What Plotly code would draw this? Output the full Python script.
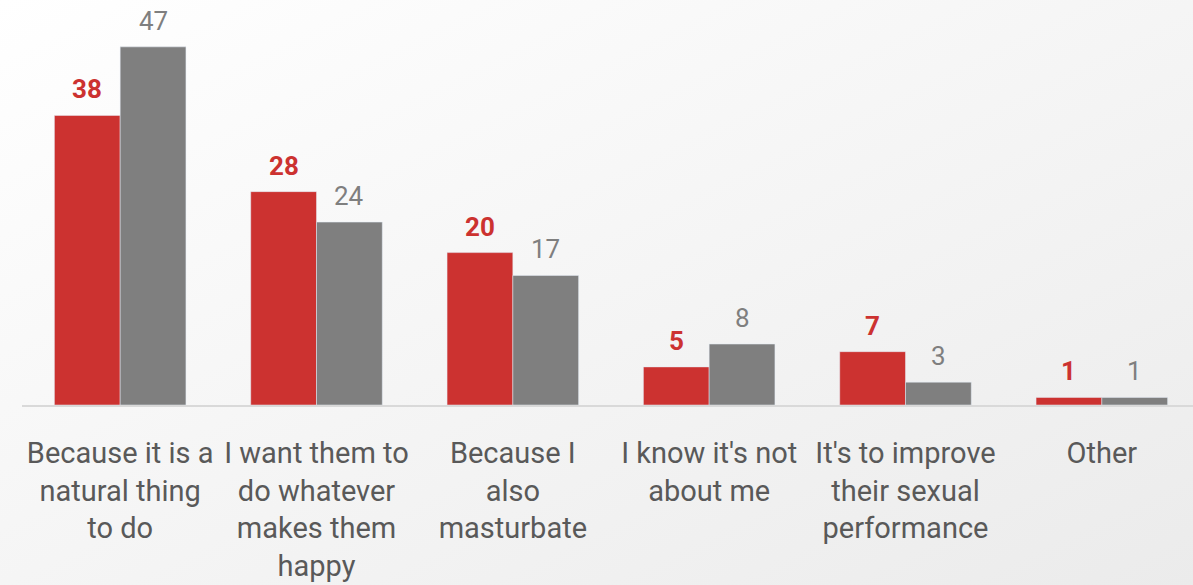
import base64
import plotly.graph_objects as go

categories = [
    "Because it is a<br>natural thing<br>to do",
    "I want them to<br>do whatever<br>makes them<br>happy",
    "Because I<br>also<br>masturbate",
    "I know it's not<br>about me",
    "It's to improve<br>their sexual<br>performance",
    "Other",
]
series_red = [38, 28, 20, 5, 7, 1]
series_gray = [47, 24, 17, 8, 3, 1]

RED = "#CC3230"
GRAY = "#7F7F7F"
TEXT = "#595959"
FONT = "Roboto"

W, H = 1200, 585
ML, MR, MT, MB = 22, 0, 0, 180

fig = go.Figure()
fig.add_trace(go.Bar(x=categories, y=series_red, marker_color=RED, name="A"))
fig.add_trace(go.Bar(x=categories, y=series_gray, marker_color=GRAY, name="B"))

plot_w = W - ML - MR
cat_w = plot_w / len(categories)
bargap = 0.33
bar_w = cat_w * (1 - bargap) / 2

annotations = []
for c, v in zip(categories, series_red):
    annotations.append(dict(x=c, y=v, xref="x", yref="y", text=f"<b>{v}</b>",
                            showarrow=False, xshift=-bar_w / 2, yshift=9,
                            yanchor="bottom", font=dict(family=FONT, size=26, color=RED)))
for c, v in zip(categories, series_gray):
    annotations.append(dict(x=c, y=v, xref="x", yref="y", text=f"{v}",
                            showarrow=False, xshift=bar_w / 2, yshift=9,
                            yanchor="bottom", font=dict(family=FONT, size=26, color=GRAY)))

svg = (
    f'<svg xmlns="http://www.w3.org/2000/svg" width="{W}" height="{H}" viewBox="0 0 {W} {H}" preserveAspectRatio="none">'
    '<defs><linearGradient id="g" x1="0" y1="0" x2="1" y2="1">'
    '<stop offset="0" stop-color="#ffffff"/><stop offset="1" stop-color="#ebebeb"/>'
    '</linearGradient></defs>'
    f'<rect width="{W}" height="{H}" fill="url(#g)"/></svg>'
)
src = "data:image/svg+xml;base64," + base64.b64encode(svg.encode()).decode()
plot_h = H - MT - MB

fig.update_layout(
    width=W, height=H,
    margin=dict(l=ML, r=MR, t=MT, b=MB),
    barmode="group", bargap=bargap, bargroupgap=0,
    showlegend=False,
    paper_bgcolor="#f6f6f6", plot_bgcolor="rgba(0,0,0,0)",
    font=dict(family=FONT, color=TEXT),
    annotations=annotations,
    images=[dict(source=src, xref="paper", yref="paper",
                 x=-ML / plot_w, y=1 + MT / plot_h,
                 sizex=W / plot_w, sizey=H / plot_h,
                 xanchor="left", yanchor="top", sizing="stretch", layer="below")],
)
fig.update_xaxes(showline=True, linecolor="#D9D9D9", linewidth=2,
                 ticks="outside", ticklen=21, tickcolor="rgba(0,0,0,0)",
                 tickfont=dict(family=FONT, size=29, color=TEXT),
                 showgrid=False, tickangle=0)
fig.update_yaxes(range=[0, 53.15], visible=False, showgrid=False)

fig.write_html("out.html", config={"displayModeBar": False},
               post_script="document.body.style.margin='0';document.body.style.padding='0';document.body.style.overflow='hidden';")
